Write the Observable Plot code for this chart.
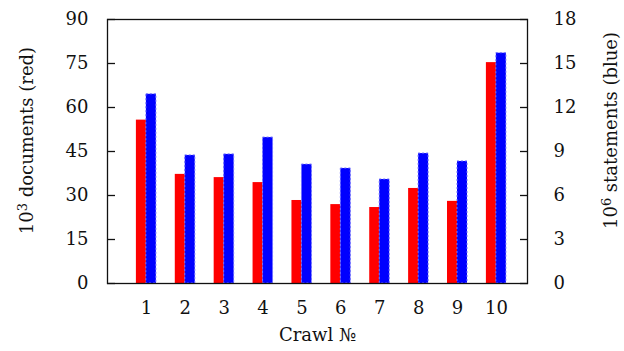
<!DOCTYPE html>
<html>
<head>
<meta charset="utf-8">
<script src="https://cdn.jsdelivr.net/npm/d3@7"></script>
<script src="https://cdn.jsdelivr.net/npm/@observablehq/plot@0.6"></script>
<style>
  html, body { margin: 0; padding: 0; background: #fff; }
  svg { display: block; }
</style>
</head>
<body>
<div id="chart"></div>
<script>
const crawls = [1, 2, 3, 4, 5, 6, 7, 8, 9, 10];
const documentsK = [55.7, 37.2, 36.1, 34.4, 28.3, 26.9, 25.9, 32.4, 28.0, 75.3];
const statementsM = [12.9, 8.73, 8.8, 9.95, 8.11, 7.84, 7.09, 8.86, 8.32, 15.7];
const leftTicks = [0, 15, 30, 45, 60, 75, 90];
const rightTicks = [0, 3, 6, 9, 12, 15, 18];
const leftLabel = ["10", "3", " documents (red)"];
const rightLabel = ["10", "6", " statements (blue)"];

const ratio = 90 / 18;
const barW = 0.257;
const data = crawls.map((c, i) => ({crawl: c, docs: documentsK[i], stmts: statementsM[i]}));

const font = "'DejaVu Serif', 'Liberation Serif', serif";
const fs = 18;

const chart = Plot.plot({
  width: 624,
  height: 351,
  marginTop: 19,
  marginBottom: 68,
  marginLeft: 107,
  marginRight: 97,
  style: {fontFamily: font, fontSize: fs + "px", color: "#111", background: "#fff"},
  x: {type: "linear", domain: [0, 10.8]},
  y: {domain: [0, 90]},
  marks: [
    Plot.rectY(data, {x1: d => d.crawl - barW, x2: d => d.crawl, y1: 0, y2: "docs", fill: "#ff0000", inset: 0}),
    Plot.rectY(data, {x1: d => d.crawl, x2: d => d.crawl + barW, y1: 0, y2: d => d.stmts * ratio, fill: "#0000ff", stroke: "#7070ff", strokeWidth: 1, strokeDasharray: "2,2", inset: 0}),
    Plot.axisY({anchor: "left", ticks: leftTicks, tickSize: -8, tickPadding: 27, tickFormat: d => String(d), label: null, stroke: "#111", strokeWidth: 1.3, fontSize: fs}),
    Plot.axisY({anchor: "right", ticks: rightTicks.map(t => t * ratio), tickSize: -8, tickPadding: 34, tickFormat: d => String(Math.round(d / ratio)), label: null, stroke: "#111", strokeWidth: 1.3, fontSize: fs}),
    Plot.axisX({anchor: "bottom", ticks: crawls, tickSize: 0, tickPadding: 18, tickFormat: d => String(d), label: null, fontSize: fs}),
    Plot.frame({stroke: "#111", strokeWidth: 1.3}),
    Plot.text(["Crawl №"], {frameAnchor: "bottom", dy: 57, fontSize: fs, fill: "#111", textAnchor: "middle"}),
    Plot.text([leftLabel.join("")], {frameAnchor: "left", dx: -80, dy: -11, rotate: -90, fontSize: fs, fill: "#111", textAnchor: "middle", className: "ylab-left"}),
    Plot.text([rightLabel.join("")], {frameAnchor: "right", dx: 84, dy: -21, rotate: -90, fontSize: fs, fill: "#111", textAnchor: "middle", className: "ylab-right"})
  ]
});
document.getElementById("chart").appendChild(chart);

// render superscripts as real superscripts
function superscript(selector, parts) {
  d3.select(chart).selectAll(selector + " text").each(function () {
    const t = d3.select(this);
    t.text(null);
    t.append("tspan").text(parts[0]);
    t.append("tspan").attr("dy", "-0.45em").attr("font-size", "0.72em").text(parts[1]);
    t.append("tspan").attr("dy", "0.32em").text(parts[2]);
  });
}
superscript(".ylab-left", leftLabel);
superscript(".ylab-right", rightLabel);
</script>
</body>
</html>
